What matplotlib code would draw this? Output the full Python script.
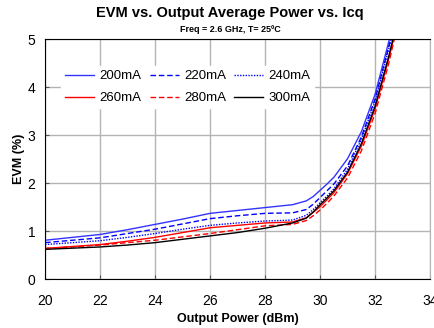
import matplotlib
matplotlib.use('Agg')
import matplotlib.pyplot as plt

plt.rcParams['font.family'] = ['Liberation Sans', 'DejaVu Sans']

# output power (dBm)
pout = [20, 21, 22, 23, 24, 25, 26, 27, 28, 29, 29.5, 29.75, 30, 30.25, 30.5, 31, 31.5, 32, 32.5, 32.8]

# EVM (%) per quiescent current
evm_200 = [0.81, 0.87, 0.93, 1.03, 1.14, 1.25, 1.37, 1.43, 1.49, 1.55, 1.63, 1.72, 1.85, 1.98, 2.12, 2.51, 3.07, 3.85, 4.95, 5.6]
evm_220 = [0.76, 0.81, 0.86, 0.95, 1.04, 1.15, 1.26, 1.32, 1.37, 1.38, 1.45, 1.56, 1.70, 1.84, 1.98, 2.36, 2.96, 3.75, 4.85, 5.5]
evm_240 = [0.72, 0.76, 0.80, 0.87, 0.95, 1.04, 1.12, 1.17, 1.21, 1.23, 1.33, 1.45, 1.59, 1.73, 1.88, 2.29, 2.91, 3.70, 4.80, 5.45]
evm_260 = [0.64, 0.68, 0.72, 0.79, 0.87, 0.97, 1.07, 1.12, 1.17, 1.19, 1.28, 1.39, 1.51, 1.65, 1.80, 2.20, 2.77, 3.55, 4.60, 5.3]
evm_280 = [0.64, 0.67, 0.71, 0.76, 0.81, 0.88, 0.95, 1.03, 1.11, 1.14, 1.22, 1.32, 1.44, 1.58, 1.73, 2.11, 2.67, 3.45, 4.50, 5.25]
evm_300 = [0.62, 0.645, 0.67, 0.71, 0.76, 0.83, 0.90, 0.97, 1.06, 1.17, 1.27, 1.40, 1.55, 1.69, 1.84, 2.23, 2.82, 3.60, 4.65, 5.35]

labels = ['200mA', '220mA', '240mA', '260mA', '280mA', '300mA']

fig = plt.figure(figsize=(4.34, 3.28), dpi=100)
ax = fig.add_axes([0.104, 0.149, 0.887, 0.732])

h1, = ax.plot(pout, evm_200, color='#3333ff', lw=1.0, ls='-')
h2, = ax.plot(pout, evm_220, color='#0000ff', lw=1.0, ls=(0, (4, 2)))
h3, = ax.plot(pout, evm_240, color='#0000ff', lw=1.0, ls=(0, (1, 1)))
h4, = ax.plot(pout, evm_260, color='#ff0000', lw=1.0, ls='-')
h5, = ax.plot(pout, evm_280, color='#ff0000', lw=1.0, ls=(0, (4, 2)))
h6, = ax.plot(pout, evm_300, color='black', lw=1.0, ls='-')

ax.set_xlim(20, 34)
ax.set_ylim(0, 5)
ax.set_xticks(range(20, 35, 2))
ax.set_yticks(range(0, 6))
ax.grid(True, color='#b4b4b4', lw=1.0)
ax.set_axisbelow(True)
ax.tick_params(direction='in', length=3, labelsize=10, color='#555555')
ax.tick_params(axis='x', pad=11)
ax.tick_params(axis='y', pad=7)

ax.spines['right'].set_color('#b4b4b4')
for s in ['left', 'bottom', 'top']:
    ax.spines[s].set_color('black')

ax.set_xlabel('Output Power (dBm)', fontsize=9, fontweight='bold', labelpad=3)
ax.set_ylabel('EVM (%)', fontsize=9, fontweight='bold', labelpad=2)

# column-major order so rows read 200/220/240 and 260/280/300
leg = ax.legend([h1, h4, h2, h5, h3, h6],
                [labels[0], labels[3], labels[1], labels[4], labels[2], labels[5]],
                ncol=3, loc='upper left', bbox_to_anchor=(0.025, 0.915),
                frameon=True, fancybox=False, edgecolor='white', framealpha=1,
                fontsize=9.5, handlelength=2.2, handletextpad=0.4,
                columnspacing=0.6, labelspacing=0.75, borderpad=0.3)

fig.text(0.53, 0.96, 'EVM vs. Output Average Power vs. Icq', ha='center', va='center',
         fontsize=10.5, fontweight='bold')
fig.text(0.53, 0.91, 'Freq = 2.6 GHz, T= 25ºC', ha='center', va='center',
         fontsize=6.5, fontweight='bold')

fig.savefig('out.png', dpi=100)
